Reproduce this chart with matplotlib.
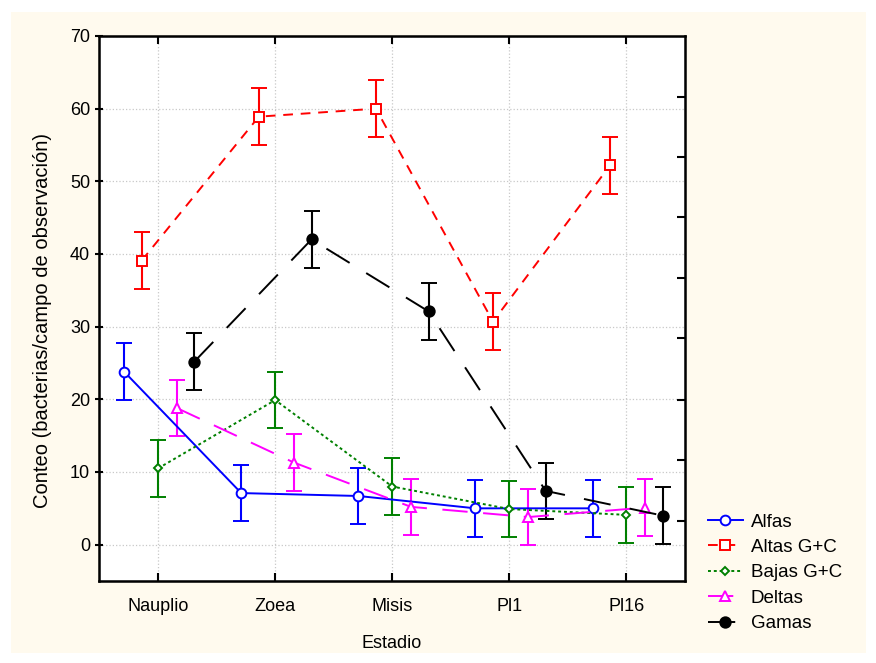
import numpy as np
import matplotlib
matplotlib.use("Agg")
from matplotlib import pyplot as plt
from matplotlib.patches import Rectangle
from matplotlib.lines import Line2D

plt.rcParams['font.family'] = ['Liberation Sans', 'DejaVu Sans']

estadios = ['Nauplio', 'Zoea', 'Misis', 'Pl1', 'Pl16']

alfas = [23.8, 7.1, 6.7, 5.0, 5.0]
altas = [39.1, 58.9, 60.0, 30.7, 52.2]
bajas = [10.5, 19.9, 8.0, 4.9, 4.1]
deltas = [18.8, 11.3, 5.2, 3.8, 5.1]
gamas = [25.2, 42.0, 32.1, 7.4, 4.0]

err_alfas = [3.9, 3.9, 3.9, 3.9, 3.9]
err_altas = [3.9, 3.9, 3.9, 3.9, 3.9]
err_bajas = [3.9, 3.9, 3.9, 3.9, 3.9]
err_deltas = [3.9, 3.9, 3.9, 3.9, 3.9]
err_gamas = [3.9, 3.9, 3.9, 3.9, 3.9]

fig = plt.figure(figsize=(8.76, 6.63), dpi=100)
fig.patch.set_facecolor('white')
fig.patches.append(Rectangle((11 / 876, 10 / 663), 855 / 876, 641 / 663,
                             transform=fig.transFigure, facecolor='#fffaee',
                             edgecolor='none', zorder=-10))

ax = fig.add_axes([99 / 876, 82 / 663, 586 / 876, 545 / 663])
ax.set_facecolor('white')

x = np.arange(len(estadios))

# name, values, errors, x offset, colour, dash, marker, face, size
series = [
    ('Alfas', alfas, err_alfas, -0.29, 'blue', '-', 'o', 'white', 7),
    ('Altas G+C', altas, err_altas, -0.14, 'red', (0, (5, 4)), 's', 'white', 7),
    ('Bajas G+C', bajas, err_bajas, 0.0, 'green', (0, (1.5, 1.5)), 'D', 'white', 4.5),
    ('Deltas', deltas, err_deltas, 0.16, 'magenta', (0, (13, 8)), '^', 'white', 7),
    ('Gamas', gamas, err_gamas, 0.31, 'black', (0, (14, 10)), 'o', 'black', 7.5),
]

handles = []
for name, vals, err, off, col, ls, mk, mfc, ms in series:
    ax.errorbar(x + off, vals, yerr=err, color=col, ecolor=col,
                linestyle=ls, marker=mk, markerfacecolor=mfc,
                markeredgecolor=col, markersize=ms, markeredgewidth=1.4,
                linewidth=1.4, elinewidth=1.5, capsize=6, capthick=1.5)
    handles.append(Line2D([], [], color=col, linestyle=ls, marker=mk,
                          markerfacecolor=mfc, markeredgecolor=col,
                          markersize=ms, markeredgewidth=1.4, linewidth=1.4,
                          label=name))

ax.set_xlim(-0.505, 4.5)
ax.set_ylim(-5, 70)
ax.set_xticks(x)
ax.set_xticklabels(estadios, fontsize=13)
ax.set_yticks(np.arange(0, 71, 10))
ax.tick_params(axis='y', labelsize=13, direction='inout', length=6, width=1.5)
ax.tick_params(axis='x', direction='in', length=6, width=1.5, pad=12, top=True)
ax.grid(True, color='#c8c8c8', linestyle=':', linewidth=0.9)
ax.set_axisbelow(True)
for s in ax.spines.values():
    s.set_linewidth(1.8)

ax2 = ax.twinx()
ax2.set_ylim(-5, 70)
ax2.set_yticks([3.3, 11.6, 19.9, 28.4, 36.7, 45.1, 53.4, 61.6])
ax2.set_yticklabels([])
ax2.tick_params(axis='y', direction='in', length=6, width=1.5)

ax.set_xlabel('Estadio', fontsize=13, labelpad=15)
ax.set_ylabel('Conteo (bacterias/campo de observación)', fontsize=14.5)
ax.yaxis.set_label_coords(-0.08, 0.478)

fig.legend(handles=handles, loc='upper left', bbox_to_anchor=(700 / 876, 1 - 506 / 663),
           frameon=False, fontsize=13.5, handlelength=1.9, handletextpad=0.4,
           labelspacing=0.44, borderaxespad=0)

fig.savefig('out.png', dpi=100, facecolor=fig.get_facecolor())
